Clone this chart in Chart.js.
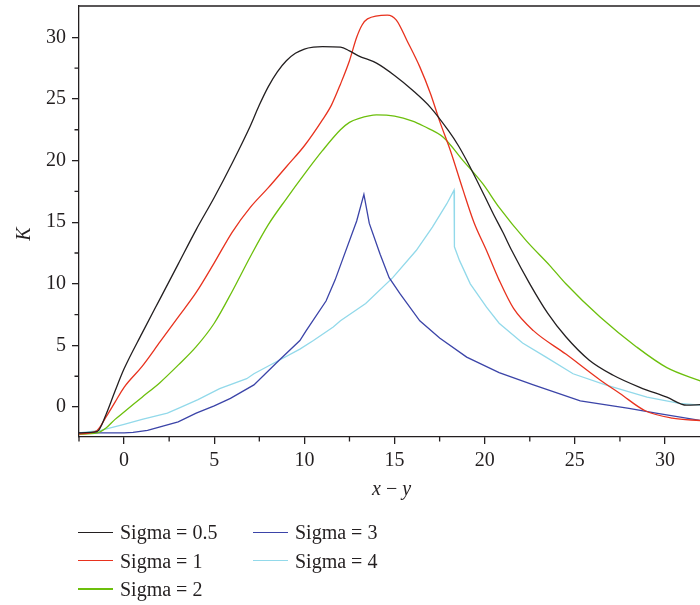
<!DOCTYPE html>
<html>
<head>
<meta charset="utf-8">
<script src="https://cdn.jsdelivr.net/npm/chart.js@4"></script>
<style>
body { margin: 0; background: #fff; }
#wrap { position: relative; width: 700px; height: 605px; font-family: "Liberation Serif", serif; color: #231f20; }
canvas { position: absolute; left: 0; top: 0; }
.lbl { position: absolute; font-size: 20px; line-height: 20px; white-space: nowrap; }
.key { position: absolute; width: 35px; height: 1.4px; }
</style>
</head>
<body>
<div id="wrap">
  <canvas id="chart" width="700" height="605"></canvas>
  <div class="lbl" style="left:2.75px;top:223.5px;width:40px;text-align:center;transform:rotate(-90deg);"><i>K</i></div>
  <div class="lbl" style="left:372px;top:478px;"><i>x</i> − <i>y</i></div>
  <div id="legend"></div>
</div>
<script>
// x - y positions and K values, one pair of arrays per curve
const sigma05X = [-2.5, -1.5, -1.0, -0.5, 0, 1, 2, 3, 4, 5, 6, 7, 7.5, 8, 8.5, 9, 9.5, 10, 10.5, 11, 12, 12.5, 13, 14, 15, 16, 17, 18, 18.5, 19, 20, 20.5, 21, 21.5, 22.5, 23.5, 24.5, 25.8, 27.1, 28.6, 30.1, 31.2, 32];
const sigma05Y = [-2.1, -2.0, -0.6, 1.3, 3.1, 6.0, 8.8, 11.6, 14.4, 17.0, 19.8, 22.8, 24.5, 26.0, 27.2, 28.1, 28.7, 29.05, 29.2, 29.25, 29.2, 28.9, 28.5, 27.9, 26.9, 25.7, 24.3, 22.4, 21.3, 20.0, 17.1, 15.6, 14.2, 12.7, 10.0, 7.6, 5.7, 3.8, 2.6, 1.6, 0.8, 0.15, 0.2];

const sigma1X = [-2.5, -1.5, -1.0, -0.5, 0, 1, 2, 3, 4, 5, 6, 7, 8, 9, 10, 11, 11.5, 12, 12.5, 12.9, 13.2, 13.5, 14.6, 15.1, 15.7, 16.4, 17, 17.5, 18.1, 18.8, 19.4, 20.1, 20.8, 21.6, 22.7, 24.5, 26.4, 27.5, 28.9, 30.4, 32];
const sigma1Y = [-2.2, -1.9, -0.8, 0.4, 1.6, 3.3, 5.3, 7.3, 9.3, 11.7, 14.2, 16.2, 17.8, 19.5, 21.2, 23.3, 24.5, 26.2, 28.1, 30.0, 31.0, 31.5, 31.8, 31.4, 29.7, 27.6, 25.4, 23.2, 20.8, 17.6, 15.0, 12.7, 10.3, 8.0, 6.2, 4.3, 2.2, 1.1, -0.3, -0.9, -1.1];

const sigma2X = [-2.5, -1.5, -1.0, -0.5, 0, 1, 2, 3, 4, 5, 6, 7, 8, 9, 10, 11, 12, 12.5, 13, 14, 15, 16, 16.6, 17.7, 18.8, 19.9, 20.8, 22.3, 23.6, 24.5, 26.4, 28.4, 30.1, 32];
const sigma2Y = [-2.2, -2.1, -1.7, -1.0, -0.4, 0.8, 2.0, 3.4, 4.9, 6.8, 9.4, 12.2, 14.8, 16.9, 18.9, 20.8, 22.5, 23.1, 23.4, 23.7, 23.6, 23.2, 22.8, 21.9, 20.0, 18.1, 16.2, 13.5, 11.5, 10.0, 7.3, 4.9, 3.2, 2.1];

const sigma3X = [-2.5, 0, 0.5, 1.3, 2, 3, 4, 5, 5.9, 7.2, 8.6, 9.75, 10.1, 11.2, 11.7, 12.1, 12.9, 13.3, 13.6, 14.2, 14.7, 15.3, 16.4, 17.5, 19, 20.8, 22.7, 25.3, 28, 29.5, 32];
const sigma3Y = [-2.1, -2.1, -2.05, -1.9, -1.6, -1.2, -0.5, 0.1, 0.7, 1.8, 3.8, 5.4, 6.2, 8.6, 10.3, 11.9, 15.1, 17.25, 14.9, 12.4, 10.5, 9.2, 7.0, 5.6, 4.05, 2.8, 1.8, 0.5, -0.1, -0.5, -1.1];

const sigma4X = [-2.5, -1.3, 0, 1, 2.4, 3.1, 4.1, 5.3, 6.8, 7.2, 8.6, 9.75, 10.5, 11.6, 12, 13.4, 14.9, 16.2, 17.1, 17.9, 18.3, 18.32, 18.6, 19.2, 20.1, 20.8, 22.1, 23.4, 24.9, 26.7, 29, 30.8, 32];
const sigma4Y = [-2.1, -1.9, -1.4, -1.0, -0.5, -0.05, 0.6, 1.5, 2.3, 2.7, 3.8, 4.7, 5.4, 6.5, 7.0, 8.4, 10.5, 12.7, 14.6, 16.5, 17.6, 13.0, 11.9, 10.0, 8.1, 6.8, 5.2, 4.05, 2.7, 1.8, 0.8, 0.3, 0.15];

const seriesNames = ['Sigma = 0.5', 'Sigma = 1', 'Sigma = 2', 'Sigma = 3', 'Sigma = 4'];
const seriesColors = ['#231f20', '#e8321e', '#6cbf0c', '#3b44a8', '#92d9ea'];
// the two cusped curves stay straight between points, the rest are smoothed
const seriesSmooth = [true, true, true, false, false];

const xTicks = [0, 5, 10, 15, 20, 25, 30];
const xMinor = [-2.5, 2.5, 7.5, 12.5, 17.5, 22.5, 27.5];
const yTicks = [0, 5, 10, 15, 20, 25, 30];
const yMinor = [2.5, 7.5, 12.5, 17.5, 22.5, 27.5];

const axisColor = '#231f20';
const tickFont = { family: 'Liberation Serif', size: 20 };

const xs = [sigma05X, sigma1X, sigma2X, sigma3X, sigma4X];
const ys = [sigma05Y, sigma1Y, sigma2Y, sigma3Y, sigma4Y];

const datasets = seriesNames.map((name, i) => ({
    label: name,
    data: xs[i].map((x, j) => ({ x: x, y: ys[i][j] })),
    borderColor: seriesColors[i],
    borderWidth: 1.3,
    pointRadius: 0,
    tension: 0,
    cubicInterpolationMode: seriesSmooth[i] ? 'monotone' : 'default',
    fill: false
}));

// short minor ticks and the top frame line
const extras = {
    id: 'extras',
    afterDraw(chart) {
        const { ctx, chartArea: a, scales: { x, y } } = chart;
        ctx.save();
        ctx.strokeStyle = axisColor;
        ctx.lineWidth = 1.3;
        ctx.beginPath();
        xMinor.forEach(v => {
            const p = x.getPixelForValue(v);
            ctx.moveTo(p, a.bottom);
            ctx.lineTo(p, a.bottom + 4.5);
        });
        yMinor.forEach(v => {
            const p = y.getPixelForValue(v);
            ctx.moveTo(a.left, p);
            ctx.lineTo(a.left - 4.5, p);
        });
        ctx.moveTo(a.left, a.top);
        ctx.lineTo(a.right, a.top);
        ctx.stroke();
        ctx.restore();
    }
};

new Chart(document.getElementById('chart').getContext('2d'), {
    type: 'line',
    data: { datasets },
    plugins: [extras],
    options: {
        animation: false,
        responsive: false,
        devicePixelRatio: 1,
        layout: { padding: { top: 6, left: 0, right: 0, bottom: 0 } },
        plugins: { legend: { display: false }, tooltip: { enabled: false } },
        scales: {
            x: {
                type: 'linear',
                bounds: 'data',
                min: -2.5,
                max: 31.94,
                border: { color: axisColor, width: 1.3 },
                grid: { drawOnChartArea: false, drawTicks: true, tickLength: 7, color: axisColor, lineWidth: 1.3 },
                ticks: { font: tickFont, color: axisColor, padding: 5, maxRotation: 0, autoSkip: false },
                afterBuildTicks: s => { s.ticks = xTicks.map(v => ({ value: v })); },
                afterFit: s => { s.height = 168; s.paddingLeft = 0; s.paddingRight = 0; }
            },
            y: {
                type: 'linear',
                bounds: 'data',
                min: -2.43,
                max: 32.54,
                border: { color: axisColor, width: 1.3 },
                grid: { drawOnChartArea: false, drawTicks: true, tickLength: 7, color: axisColor, lineWidth: 1.3 },
                ticks: { font: tickFont, color: axisColor, padding: 6 },
                afterBuildTicks: s => { s.ticks = yTicks.map(v => ({ value: v })); },
                afterFit: s => { s.width = 79; s.paddingTop = 0; s.paddingBottom = 0; }
            }
        }
    }
});

// legend laid out in two columns, filled down first
const legendBox = document.getElementById('legend');
const legendCols = [78, 253];
const legendRows = [522.3, 550.6, 579];
seriesNames.forEach((name, i) => {
    const col = Math.floor(i / 3), row = i % 3;
    const left = legendCols[col], top = legendRows[row];
    const key = document.createElement('div');
    key.className = 'key';
    key.style.left = left + 'px';
    key.style.top = (top + 9.3) + 'px';
    key.style.background = seriesColors[i];
    legendBox.appendChild(key);
    const txt = document.createElement('div');
    txt.className = 'lbl';
    txt.style.left = (left + 42) + 'px';
    txt.style.top = top + 'px';
    txt.textContent = name;
    legendBox.appendChild(txt);
});
</script>
</body>
</html>
